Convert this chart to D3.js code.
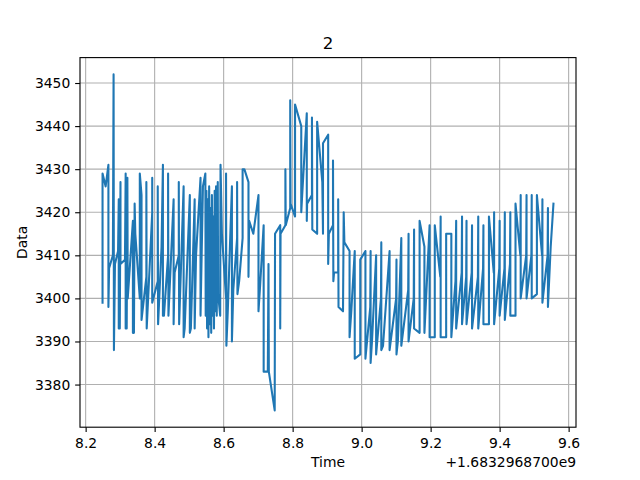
<!DOCTYPE html>
<html>
<head>
<meta charset="utf-8">
<script src="https://cdn.jsdelivr.net/npm/d3@7"></script>
<style>
  body { margin: 0; background: #fff; }
  text { font-family: "DejaVu Sans", sans-serif; fill: #000; }
</style>
</head>
<body>
<svg id="chart" width="640" height="480"></svg>
<script>
/* data: seconds after 1.6832968700e9, and the reading */

var time = [
  8.249, 8.249, 8.258, 8.266, 8.266, 8.268, 8.279, 8.281, 8.282, 8.285,
  8.294, 8.296, 8.296, 8.299, 8.301, 8.301, 8.314, 8.316, 8.316, 8.319,
  8.321, 8.322, 8.337, 8.337, 8.340, 8.342, 8.344, 8.357, 8.357, 8.359,
  8.362, 8.362, 8.376, 8.376, 8.377, 8.393, 8.393, 8.393, 8.409, 8.409,
  8.410, 8.420, 8.424, 8.424, 8.427, 8.439, 8.439, 8.440, 8.455, 8.455,
  8.458, 8.470, 8.470, 8.471, 8.484, 8.484, 8.487, 8.502, 8.502, 8.505,
  8.516, 8.516, 8.520, 8.533, 8.533, 8.540, 8.547,
  8.548, 8.550, 8.552, 8.554, 8.556, 8.558, 8.560, 8.562, 8.564, 8.566,
  8.568, 8.570, 8.572, 8.574, 8.576, 8.578, 8.580, 8.583, 8.584, 8.590,
  8.591, 8.595, 8.607, 8.607, 8.608, 8.612, 8.624, 8.624, 8.628, 8.639,
  8.639, 8.640, 8.645, 8.655, 8.655, 8.660, 8.672, 8.672, 8.674, 8.686,
  8.701, 8.701, 8.705, 8.716, 8.716, 8.728, 8.730, 8.731, 8.748, 8.749,
  8.764, 8.764, 8.765, 8.779, 8.779, 8.780, 8.793, 8.793, 8.794, 8.807,
  8.807, 8.825, 8.825, 8.827, 8.841, 8.841, 8.842, 8.856, 8.856, 8.857,
  8.871, 8.871, 8.886, 8.888, 8.888, 8.903, 8.903, 8.905, 8.917, 8.917,
  8.918, 8.920, 8.932, 8.932, 8.933, 8.946, 8.948, 8.950, 8.965, 8.965,
  8.970, 8.980, 8.980, 8.996, 8.996, 9.011, 9.011, 9.025, 9.026, 9.026,
  9.030, 9.042, 9.042, 9.056, 9.057, 9.057, 9.062, 9.081, 9.081, 9.100,
  9.101, 9.101, 9.105, 9.115, 9.115, 9.135, 9.136, 9.136, 9.151, 9.152,
  9.152, 9.168, 9.168, 9.182, 9.182, 9.197, 9.197, 9.212, 9.212, 9.228,
  9.229, 9.229, 9.245, 9.245, 9.260, 9.260, 9.272, 9.274, 9.274, 9.290,
  9.291, 9.291, 9.303, 9.304, 9.304, 9.319, 9.320, 9.320, 9.337, 9.338,
  9.338, 9.352, 9.353, 9.353, 9.369, 9.369, 9.383, 9.384, 9.384, 9.399,
  9.400, 9.400, 9.414, 9.415, 9.415, 9.430, 9.431, 9.431, 9.446, 9.446,
  9.460, 9.461, 9.461, 9.477, 9.478, 9.478, 9.492, 9.493, 9.493, 9.508,
  9.508, 9.523, 9.524, 9.524, 9.539, 9.540, 9.540, 9.548, 9.556
];

var value = [
  3399, 3429, 3426, 3431, 3398, 3407, 3410, 3452, 3388, 3408,
  3411, 3423, 3393, 3393, 3427, 3408, 3409, 3429, 3393, 3393,
  3428, 3400, 3418, 3392, 3392, 3422, 3415, 3400, 3429, 3427,
  3424, 3395, 3405, 3427, 3393, 3420, 3428, 3399, 3404, 3426,
  3394, 3412, 3431, 3396, 3396, 3410, 3429, 3396, 3423, 3394,
  3406, 3410, 3427, 3394, 3426, 3391, 3393, 3424, 3392, 3393,
  3423, 3393, 3410, 3428, 3396, 3426, 3429,
  3396, 3425, 3393, 3423, 3391, 3426, 3394, 3421, 3392, 3424,
  3396, 3419, 3393, 3425, 3397, 3426, 3396, 3427, 3401, 3396,
  3431, 3415, 3400, 3429, 3389, 3397, 3426, 3390, 3402, 3414,
  3427, 3401, 3404, 3414, 3430, 3430, 3427, 3405, 3418, 3415,
  3424, 3397, 3402, 3417, 3383, 3383, 3408, 3383, 3374, 3415,
  3417, 3393, 3415, 3417, 3430, 3417, 3421, 3446, 3422, 3419,
  3445, 3440, 3420, 3423, 3443, 3418, 3422, 3424, 3442, 3416,
  3415, 3441, 3427, 3415, 3436, 3438, 3408, 3415, 3417, 3432,
  3404, 3406, 3406, 3423, 3398, 3397, 3420, 3413, 3411, 3391,
  3397, 3411, 3386, 3387, 3409, 3411, 3386, 3398, 3411, 3385,
  3390, 3410, 3387, 3400, 3413, 3388, 3389, 3411, 3388, 3400,
  3409, 3387, 3390, 3414, 3389, 3402, 3415, 3390, 3400, 3416,
  3393, 3392, 3418, 3412, 3392, 3417, 3391, 3391, 3417, 3405,
  3419, 3391, 3391, 3415, 3415, 3391, 3404, 3418, 3393, 3406,
  3419, 3394, 3405, 3418, 3394, 3406, 3417, 3393, 3405, 3419,
  3393, 3407, 3417, 3394, 3394, 3419, 3406, 3420, 3394, 3407,
  3418, 3396, 3407, 3420, 3395, 3408, 3420, 3396, 3396, 3422,
  3410, 3424, 3400, 3410, 3424, 3400, 3410, 3424, 3400, 3401,
  3424, 3410, 3423, 3399, 3410, 3421, 3398, 3412, 3422
];

var xTicks = [8.2, 8.4, 8.6, 8.8, 9.0, 9.2, 9.4, 9.6];
var yTicks = [3380, 3390, 3400, 3410, 3420, 3430, 3440, 3450];

var title = "2";
var xLabel = "Time";
var yLabel = "Data";
var offsetText = "+1.6832968700e9";


/* layout, matplotlib defaults for a 6.4x4.8in figure at 100 dpi */

var W = 640, H = 480;
var axLeft = 80, axRight = 576, axTop = 57.6, axBottom = 427.2;
var fontPx = 13.89;
var tickLen = 4.86;
var thin = 1.11;   /* 0.8pt */
var blue = "#1f77b4";

var svg = d3.select("#chart");

var points = time.map(function(t, i) { return [t, value[i]]; });

/* 5% margins round the data, as matplotlib does */
var tx = d3.extent(time), vy = d3.extent(value);
var padX = (tx[1] - tx[0]) * 0.05, padY = (vy[1] - vy[0]) * 0.05;

var x = d3.scaleLinear().domain([tx[0] - padX, tx[1] + padX]).range([axLeft, axRight]);
var y = d3.scaleLinear().domain([vy[0] - padY, vy[1] + padY]).range([axBottom, axTop]);

/* grid */
var grid = svg.append("g").attr("stroke", "#b0b0b0").attr("stroke-width", thin);
grid.selectAll("line.gx").data(xTicks).enter().append("line")
    .attr("x1", function(d) { return x(d); }).attr("x2", function(d) { return x(d); })
    .attr("y1", axTop).attr("y2", axBottom);
grid.selectAll("line.gy").data(yTicks).enter().append("line")
    .attr("y1", function(d) { return y(d); }).attr("y2", function(d) { return y(d); })
    .attr("x1", axLeft).attr("x2", axRight);

/* the line, 1.5pt */
svg.append("path")
    .datum(points)
    .attr("fill", "none")
    .attr("stroke", blue)
    .attr("stroke-width", 2.08)
    .attr("stroke-linejoin", "round")
    .attr("stroke-linecap", "square")
    .attr("d", d3.line().x(function(d) { return x(d[0]); }).y(function(d) { return y(d[1]); }));

/* axes */
var xAxis = d3.axisBottom(x).tickValues(xTicks).tickFormat(d3.format(".1f"))
    .tickSizeInner(tickLen).tickSizeOuter(0).tickPadding(6);
var yAxis = d3.axisLeft(y).tickValues(yTicks).tickFormat(d3.format("d"))
    .tickSizeInner(tickLen).tickSizeOuter(0).tickPadding(4.86);

var gx = svg.append("g").attr("transform", "translate(0," + axBottom + ")").call(xAxis);
var gy = svg.append("g").attr("transform", "translate(" + axLeft + ",0)").call(yAxis);

[gx, gy].forEach(function(g) {
    g.select(".domain").remove();
    g.selectAll(".tick line").attr("stroke", "#000").attr("stroke-width", thin);
    g.selectAll(".tick text")
        .style("font-family", "'DejaVu Sans', sans-serif")
        .style("font-size", fontPx + "px")
        .attr("fill", "#000");
});

/* frame */
svg.append("rect")
    .attr("x", axLeft).attr("y", axTop)
    .attr("width", axRight - axLeft).attr("height", axBottom - axTop)
    .attr("fill", "none").attr("stroke", "#000").attr("stroke-width", thin);

/* texts */
svg.append("text")
    .attr("x", (axLeft + axRight) / 2).attr("y", 49)
    .attr("text-anchor", "middle")
    .style("font-size", "16.67px")
    .text(title);

svg.append("text")
    .attr("x", (axLeft + axRight) / 2).attr("y", 467)
    .attr("text-anchor", "middle")
    .style("font-size", fontPx + "px")
    .text(xLabel);

svg.append("text")
    .attr("x", axRight).attr("y", 467)
    .attr("text-anchor", "end")
    .style("font-size", fontPx + "px")
    .text(offsetText);

svg.append("text")
    .attr("transform", "translate(27," + (axTop + axBottom) / 2 + ") rotate(-90)")
    .attr("text-anchor", "middle")
    .style("font-size", fontPx + "px")
    .text(yLabel);
</script>
</body>
</html>
